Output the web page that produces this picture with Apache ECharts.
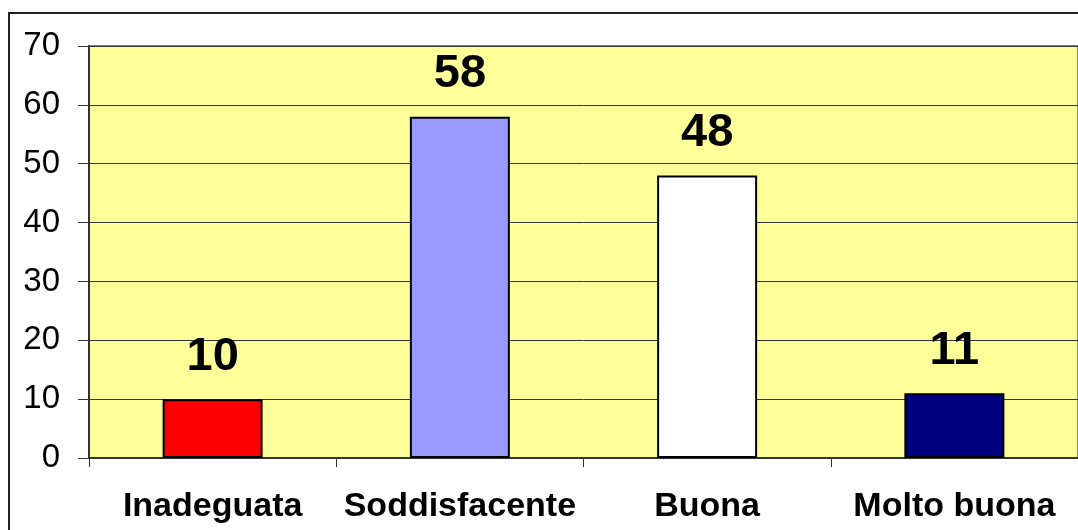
<!DOCTYPE html>
<html>
<head>
<meta charset="utf-8">
<script src="https://cdn.jsdelivr.net/npm/echarts@6/dist/echarts.min.js"></script>
<style>
  html, body { margin: 0; padding: 0; background: #fff; }
  #main { width: 1078px; height: 530px; }
</style>
</head>
<body>
<div id="main"></div>
<script>
// dati del grafico
var categories = ['Inadeguata', 'Soddisfacente', 'Buona', 'Molto buona'];
var values = [10, 58, 48, 11];
var barColors = ['#FF0000', '#9999FF', '#FFFFFF', '#000080'];

var myChart = echarts.init(document.getElementById('main'));

var option = {
  animation: false,
  backgroundColor: '#fff',
  textStyle: { fontFamily: 'Liberation Sans, Arial, sans-serif' },
  graphic: [
    {
      type: 'rect',
      shape: { x: 9, y: 13, width: 1100, height: 600 },
      style: { fill: 'none', stroke: '#222', lineWidth: 2 },
      z: 0
    }
  ],
  grid: {
    left: 89,
    top: 46,
    width: 992,
    height: 412,
    show: true,
    backgroundColor: '#FFFF99',
    borderColor: '#808080',
    borderWidth: 2
  },
  xAxis: {
    type: 'category',
    data: categories,
    axisLine: { lineStyle: { color: '#333', width: 2 } },
    axisTick: { show: true, length: 9, lineStyle: { color: '#333', width: 1 } },
    axisLabel: {
      interval: 0,
      color: '#000',
      fontWeight: 'bold',
      fontSize: 34,
      margin: 32,
      fontFamily: 'Liberation Sans, Arial, sans-serif'
    }
  },
  yAxis: {
    type: 'value',
    min: 0,
    max: 70,
    interval: 10,
    axisLine: { show: true, lineStyle: { color: '#333', width: 2 } },
    axisTick: { show: true, length: 11, lineStyle: { color: '#333', width: 1 } },
    axisLabel: {
      color: '#000',
      fontSize: 33,
      margin: 29,
      fontFamily: 'Liberation Sans, Arial, sans-serif'
    },
    splitLine: { lineStyle: { color: '#333', width: 1 } }
  },
  series: [
    {
      type: 'bar',
      barWidth: 100,
      data: values.map(function (v, i) {
        return { value: v, itemStyle: { color: barColors[i] } };
      }),
      itemStyle: { borderColor: '#000', borderWidth: 2 },
      label: {
        show: true,
        position: 'top',
        distance: 19,
        color: '#000',
        fontWeight: 'bold',
        fontSize: 47,
        fontFamily: 'Liberation Sans, Arial, sans-serif'
      }
    }
  ]
};

myChart.setOption(option);
</script>
</body>
</html>
